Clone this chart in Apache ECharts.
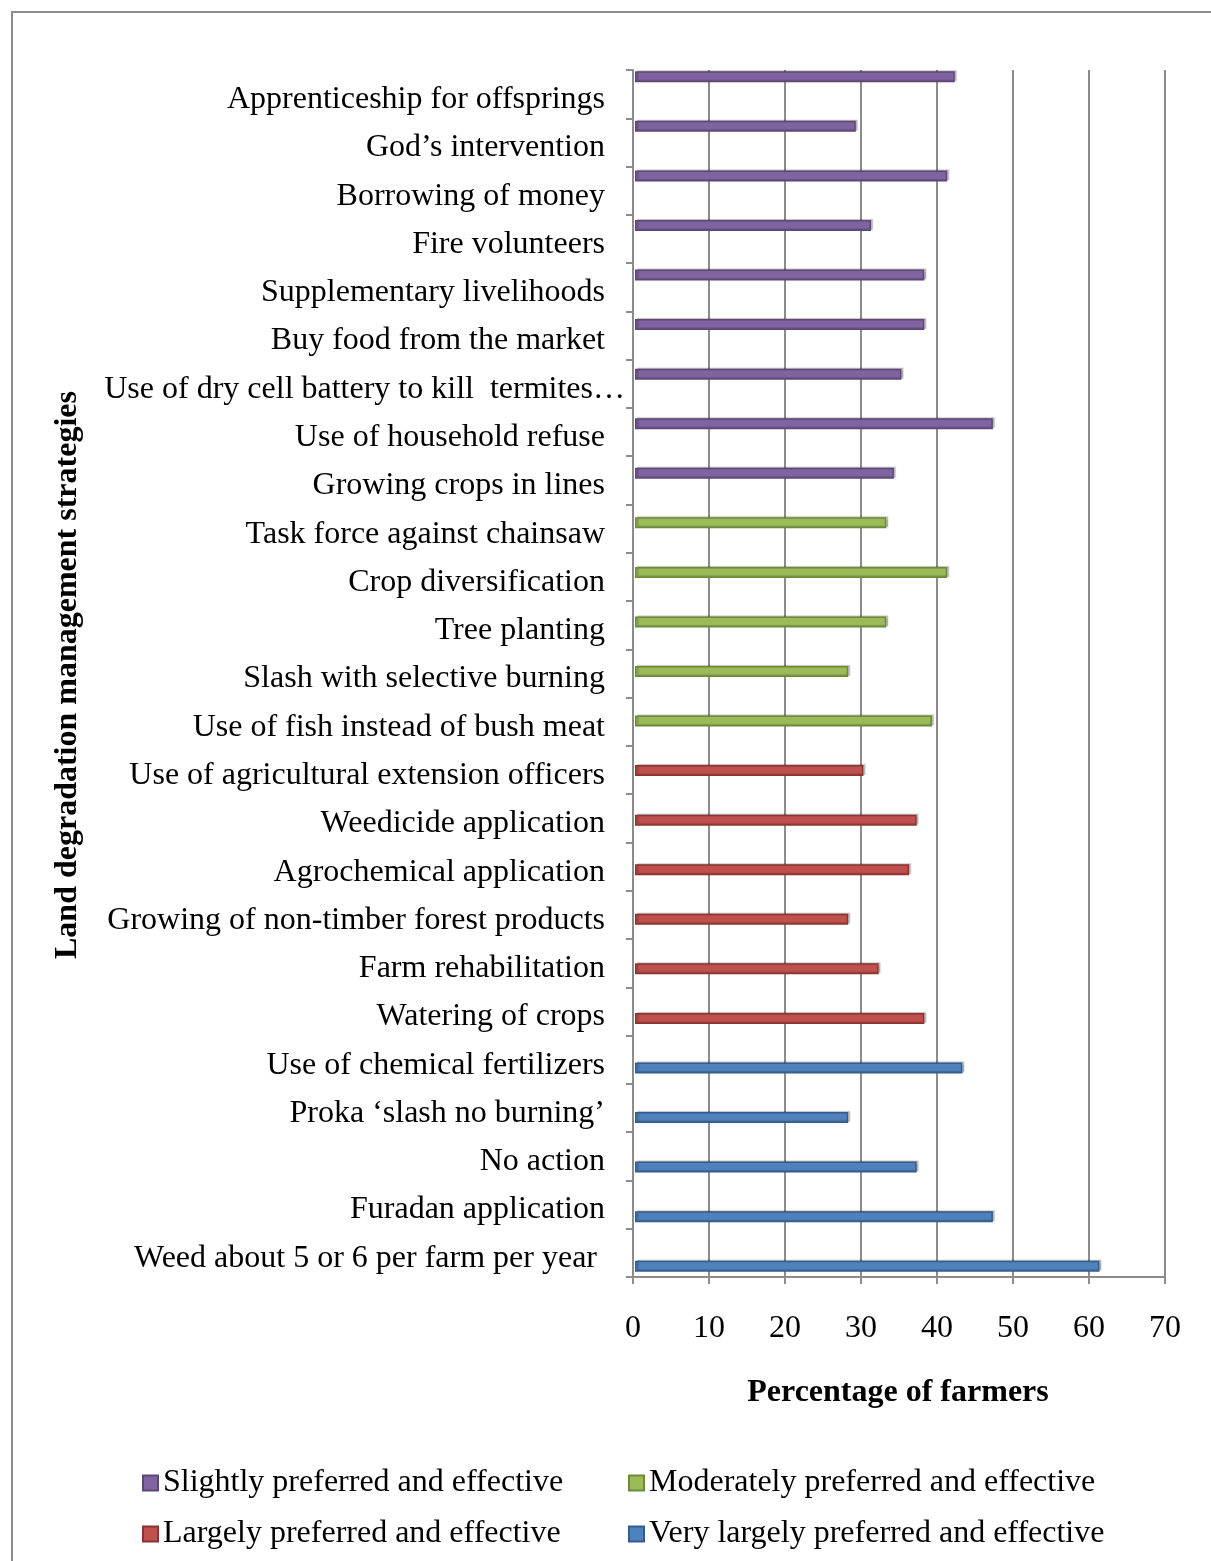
<!DOCTYPE html>
<html>
<head>
<meta charset="utf-8">
<script src="https://cdn.jsdelivr.net/npm/echarts@6/dist/echarts.min.js"></script>
<style>
  html, body { margin: 0; padding: 0; background: #fff; }
  #chart { width: 1211px; height: 1561px; }
</style>
</head>
<body>
<div id="chart"></div>
<script>
// Strategies, listed top to bottom, grouped by preference class
const slightlyCats = [
  'Apprenticeship for offsprings',
  'God\u2019s intervention',
  'Borrowing of money',
  'Fire volunteers',
  'Supplementary livelihoods',
  'Buy food from the market',
  'Use of dry cell battery to kill  termites\u2026',
  'Use of household refuse',
  'Growing crops in lines'
];
const slightlyVals = [42, 29, 41, 31, 38, 38, 35, 47, 34];

const moderatelyCats = [
  'Task force against chainsaw',
  'Crop diversification',
  'Tree planting',
  'Slash with selective burning',
  'Use of fish instead of bush meat'
];
const moderatelyVals = [33, 41, 33, 28, 39];

const largelyCats = [
  'Use of agricultural extension officers',
  'Weedicide application',
  'Agrochemical application',
  'Growing of non-timber forest products',
  'Farm rehabilitation',
  'Watering of crops'
];
const largelyVals = [30, 37, 36, 28, 32, 38];

const veryLargelyCats = [
  'Use of chemical fertilizers',
  'Proka \u2018slash no burning\u2019',
  'No action',
  'Furadan application',
  'Weed about 5 or 6 per farm per year '
];
const veryLargelyVals = [43, 28, 37, 47, 61];

const seriesNames = [
  'Slightly preferred and effective',
  'Moderately preferred and effective',
  'Largely preferred and effective',
  'Very largely preferred and effective'
];
const xTicks = [0, 10, 20, 30, 40, 50, 60, 70];

const groups = [
  { cats: slightlyCats, vals: slightlyVals, color: '#8064A2', edge: '#5C4777' },
  { cats: moderatelyCats, vals: moderatelyVals, color: '#9BBB59', edge: '#6C8A38' },
  { cats: largelyCats, vals: largelyVals, color: '#C0504D', edge: '#8A3330' },
  { cats: veryLargelyCats, vals: veryLargelyVals, color: '#4F81BD', edge: '#345C8C' }
];

const categories = groups.flatMap(g => g.cats);

// One series per class, padded with '-' outside its own block
let offset = 0;
const series = groups.map((g, gi) => {
  const data = categories.map(() => '-');
  g.vals.forEach((v, i) => { data[offset + i] = v; });
  offset += g.cats.length;
  return {
    name: seriesNames[gi],
    type: 'bar',
    xAxisIndex: 0,
    yAxisIndex: 0,
    barWidth: 11,
    barGap: '-100%',
    data: data,
    itemStyle: {
      color: g.color,
      borderColor: g.edge,
      borderWidth: 1.5,
      shadowColor: 'rgba(0,0,0,0.2)',
      shadowOffsetX: 2,
      shadowOffsetY: -1,
      shadowBlur: 1
    }
  };
});

const serif = '"Liberation Serif", "Times New Roman", serif';
const frameGray = '#8c8c8c';

const legendPos = [
  { left: 142, top: 1467 },
  { left: 628, top: 1467 },
  { left: 142, top: 1518 },
  { left: 628, top: 1518 }
];

// the truncated long label runs a little past the others
const longLabel = categories[6];

const chart = echarts.init(document.getElementById('chart'));
chart.setOption({
  backgroundColor: '#ffffff',
  animation: false,
  grid: [
    // bars
    { left: 635, top: 52, width: 533, height: 1239, containLabel: false },
    // axes frame and labels
    { left: 633, top: 70, width: 532, height: 1207, containLabel: false }
  ],
  xAxis: [
    {
      type: 'value', gridIndex: 0, min: 0, max: 70, interval: 10,
      show: false
    },
    {
      type: 'value', gridIndex: 1, min: xTicks[0], max: xTicks[xTicks.length - 1], interval: 10,
      axisLine: { show: true, lineStyle: { color: frameGray, width: 2 } },
      axisTick: { show: true, length: 7, lineStyle: { color: frameGray, width: 2 } },
      axisLabel: {
        margin: 36, color: '#000', fontFamily: serif, fontSize: 32
      },
      splitLine: { show: true, lineStyle: { color: frameGray, width: 2 } }
    }
  ],
  yAxis: [
    {
      type: 'category', gridIndex: 0, data: categories, inverse: true,
      show: false
    },
    {
      type: 'category', gridIndex: 1, data: categories, inverse: true,
      axisLine: { show: true, lineStyle: { color: frameGray, width: 2 } },
      axisTick: { show: true, length: 7, lineStyle: { color: frameGray, width: 2 } },
      axisLabel: {
        margin: 28, color: '#000', fontFamily: serif, fontSize: 32, interval: 0,
        formatter: v => (v === longLabel ? '{l|' + v + '}' : '{n|' + v + '}'),
        rich: {
          n: { fontFamily: serif, fontSize: 32, color: '#000', padding: [11, 0, 0, 0] },
          l: { fontFamily: serif, fontSize: 32, color: '#000', padding: [11, -20, 0, 0] }
        }
      },
      splitLine: { show: false }
    }
  ],
  legend: seriesNames.map((n, i) => ({
    data: [n],
    left: legendPos[i].left,
    top: legendPos[i].top,
    icon: 'rect',
    itemWidth: 15,
    itemHeight: 15,
    itemGap: 5,
    padding: 0,
    textStyle: { color: '#000', fontFamily: serif, fontSize: 32 },
    selectedMode: false
  })),
  graphic: [
    {
      type: 'rect',
      shape: { x: 12, y: 12, width: 1260, height: 1600 },
      style: { fill: 'none', stroke: frameGray, lineWidth: 2 },
      silent: true
    },
    {
      type: 'text',
      x: 68, y: 675,
      rotation: Math.PI / 2,
      style: {
        text: 'Land degradation management strategies',
        fontFamily: serif, fontSize: 32, fontWeight: 'bold',
        fill: '#000', align: 'center', verticalAlign: 'middle'
      }
    },
    {
      type: 'text',
      x: 898, y: 1393,
      style: {
        text: 'Percentage of farmers',
        fontFamily: serif, fontSize: 32, fontWeight: 'bold',
        fill: '#000', align: 'center', verticalAlign: 'middle'
      }
    }
  ],
  series: series
});
</script>
</body>
</html>
